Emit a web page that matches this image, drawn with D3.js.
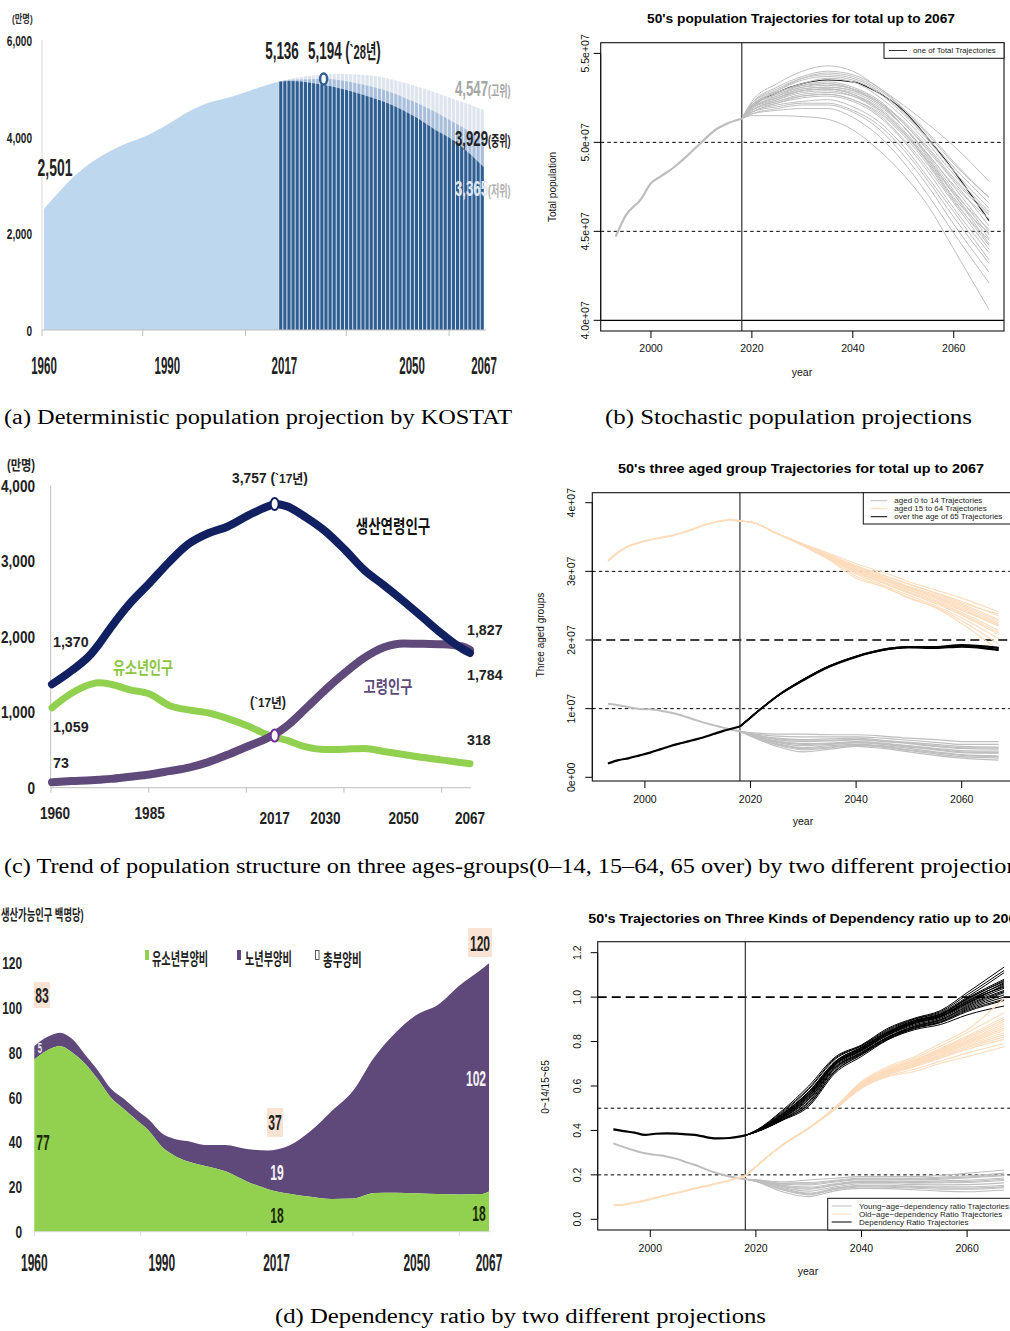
<!DOCTYPE html>
<html><head><meta charset="utf-8">
<script src="https://cdn.jsdelivr.net/npm/d3@7"></script>
<style>body{margin:0;background:#fff} svg{display:block}</style>
</head><body>
<svg id="c" width="1010" height="1331"></svg>
<script>
// ================= DATA =================
// (a) KOSTAT total population (만명)
const aHistYears = [1960,1965,1970,1975,1980,1985,1990,1995,2000,2005,2010,2015,2017];
const aHistPop   = [2501,2980,3370,3650,3860,4020,4250,4510,4700,4810,4950,5090,5136];
const aProjYears = [2017,2020,2025,2028,2030,2035,2040,2045,2050,2055,2060,2065,2067];
const aHigh = [5136,5200,5260,5290,5300,5290,5260,5180,5060,4920,4770,4620,4547];
const aMid  = [5136,5178,5190,5194,5190,5120,5030,4900,4720,4520,4280,4040,3929];
const aLow  = [5136,5150,5110,5070,5040,4930,4800,4640,4420,4150,3900,3530,3365];
const aYTicks = [0,2000,4000,6000];
const aXLabels = [1960,1990,2017,2050,2067];
const aXTicks = [1960,1984.5,2009.5,2034,2059];

// (b) stochastic total population (millions)
const bHistYears = [1993,1995,1998,2000,2002,2005,2007,2010,2013,2015,2018];
const bHist      = [44.7,45.9,46.8,47.7,48.1,48.7,49.2,50.0,50.75,51.05,51.33];
const projYears  = [2018,2020,2025,2030,2035,2040,2045,2050,2055,2060,2067];
const bProj = [
  [51.33,52.3,53.3,54.0,54.3,54.0,53.1,52.1,51.0,49.8,47.8],
  [51.33,52.2,53.0,53.6,53.8,53.6,52.9,51.7,50.2,48.6,46.6],
  [51.33,52.1,52.7,53.2,53.4,53.1,52.4,51.1,49.5,47.8,45.3],
  [51.33,52.1,52.6,53.0,53.1,52.9,52.2,50.9,49.3,47.5,45.0],
  [51.33,51.9,52.4,52.8,52.9,52.6,51.8,50.5,48.9,47.1,44.6],
  [51.33,51.8,52.3,52.6,52.7,52.4,51.6,50.2,48.5,46.6,44.0],
  [51.33,52.0,52.5,52.9,53.0,52.8,52.1,50.9,49.3,47.6,45.7],
  [51.33,51.7,52.1,52.3,52.4,52.0,51.2,49.8,48.0,46.1,43.4],
  [51.33,51.8,52.2,52.5,52.6,52.3,51.5,50.1,48.3,46.3,43.8],
  [51.33,51.6,51.9,52.1,52.1,51.7,50.8,49.3,47.5,45.4,42.7],
  [51.33,51.6,51.8,51.9,51.9,51.4,50.4,48.9,47.0,44.9,42.1],
  [51.33,51.5,51.5,51.45,51.3,50.7,49.6,48.2,46.4,44.0,40.6],
  [51.33,52.2,52.9,53.5,53.7,53.5,52.8,51.6,50.1,48.4,46.3],
  [51.33,51.9,52.5,53.0,53.1,52.9,52.2,50.9,49.2,47.3,44.8],
  [51.33,52.0,52.7,53.1,53.3,53.0,52.3,50.9,49.1,47.1,44.3],
  [51.33,51.8,52.3,52.7,52.8,52.6,51.9,50.6,48.9,46.9,44.9],
  [51.33,52.1,52.8,53.2,53.3,53.0,52.3,51.2,49.7,48.0,46.0],
  [51.33,52.0,52.9,53.6,53.9,53.7,53.0,51.9,50.5,48.9,46.9],
  [51.33,51.9,52.6,53.1,53.2,53.0,52.3,51.1,49.6,47.9,45.9],
  [51.33,52.1,52.8,53.3,53.6,53.4,52.6,51.4,49.9,48.2,46.1],
  [51.33,51.8,52.4,52.9,53.0,52.7,51.9,50.6,48.8,46.8,44.2],
  [51.33,51.7,52.2,52.6,52.7,52.4,51.7,50.4,48.7,46.7,44.5],
  [51.33,51.9,52.5,52.9,53.0,52.7,52.0,50.7,49.0,47.2,45.1],
  [51.33,52.2,53.1,53.7,54.0,53.8,53.1,51.9,50.4,48.8,46.9],
  [51.33,51.7,52.0,52.2,52.2,51.8,51.0,49.6,47.8,45.8,43.2]
];
const bBlack = [51.33,52.0,52.8,53.3,53.5,53.4,52.8,51.8,50.2,48.4,45.6];

// (c) left: KOSTAT three age groups (만명)
const cYears   = [1960,1965,1970,1972,1975,1980,1985,1990,1995,2000,2005,2010,2015,2017,2020,2025,2030,2035,2040,2045,2050,2055,2060,2065,2067];
const cWorking = [1370,1550,1771,1900,2118,2445,2712,2990,3230,3370,3460,3600,3720,3757,3730,3580,3395,3150,2880,2680,2470,2250,2030,1840,1784];
const cYouth   = [1059,1250,1371,1390,1370,1295,1240,1090,1030,990,915,820,705,672,630,540,505,510,520,480,440,400,365,330,318];
const cOld     = [73,88,99,106,117,146,175,219,266,339,437,545,654,707,813,1051,1298,1523,1722,1860,1910,1905,1900,1870,1827];
const cYTicks  = [0,1000,2000,3000,4000];
const cXLabels = [1960,1985,2017,2030,2050,2067];
const cXTicks  = [1960,1985,2010,2035,2060];

// (c) right: stochastic three age groups (millions)
const c2HistYears = [1993,1995,1997,1999,2001,2003,2005,2007,2009,2011,2013,2015,2016,2018];
const c2HistWork  = [31.5,32.8,33.7,34.2,34.6,34.9,35.2,35.6,36.1,36.7,37.1,37.4,37.5,37.3];
const c2HistOld   = [2.0,2.5,2.8,3.2,3.6,4.1,4.6,5.0,5.4,5.8,6.3,6.8,7.0,7.4];
const c2HistYoung = [10.7,10.5,10.2,9.95,9.9,9.7,9.4,9.0,8.5,8.0,7.6,7.2,7.0,6.7];
const c2WorkProj = [
  [37.3,37.2,35.5,34.0,32.6,31.1,29.9,28.5,27.3,26.1,24.1],
  [37.3,37.2,35.5,34.0,32.4,30.8,29.5,28.1,26.9,25.6,23.5],
  [37.3,37.2,35.5,33.9,32.3,30.6,29.2,27.8,26.6,25.2,23.0],
  [37.3,37.2,35.5,33.9,32.2,30.4,29.0,27.6,26.3,24.8,22.5],
  [37.3,37.2,35.5,33.9,32.1,30.2,28.7,27.3,26.0,24.4,22.0],
  [37.3,37.2,35.5,33.8,32.0,30.0,28.5,27.0,25.6,24.0,21.4],
  [37.3,37.2,35.5,33.8,31.9,29.8,28.3,26.8,25.3,23.6,20.8],
  [37.3,37.2,35.5,33.8,31.8,29.6,28.0,26.5,25.0,23.2,20.2],
  [37.3,37.2,35.5,33.7,31.7,29.3,27.8,26.2,24.8,22.8,19.4],
  [37.3,37.2,35.5,33.7,31.6,29.0,27.8,26.1,24.7,22.4,18.5],
  [37.3,37.2,35.5,33.9,32.3,30.7,29.4,28.2,26.8,25.4,23.8],
  [37.3,37.2,35.5,33.8,32.0,30.1,28.8,27.2,25.8,24.3,22.2],
  [37.3,37.2,35.5,33.9,32.2,30.5,29.1,27.7,26.4,25.0,22.8],
  [37.3,37.2,35.5,33.8,31.9,29.9,28.4,26.9,25.5,23.8,21.1],
  [37.3,37.2,35.5,33.9,32.1,30.3,28.9,27.5,26.2,24.6,22.3]
];
const c2OldProj = [
  [7.4,8.7,11.8,14.2,16.2,17.6,18.6,19.0,19.0,19.2,18.8],
  [7.4,8.7,11.8,14.2,16.2,17.6,18.5,18.9,18.9,19.1,18.6],
  [7.4,8.7,11.8,14.1,16.1,17.5,18.5,18.9,18.8,19.0,18.5],
  [7.4,8.7,11.8,14.2,16.2,17.6,18.6,19.0,19.0,19.3,18.9]
];
const c2YoungProj = [
  [6.7,6.5,6.3,6.3,6.2,6.2,6.0,5.7,5.5,5.2,5.2],
  [6.7,6.4,6.0,5.9,5.9,5.9,5.7,5.4,5.1,4.8,4.8],
  [6.7,6.3,5.7,5.5,5.6,5.7,5.4,5.1,4.8,4.5,4.4],
  [6.7,6.3,5.5,5.2,5.3,5.5,5.2,4.9,4.5,4.2,4.1],
  [6.7,6.2,5.3,4.9,5.0,5.2,5.0,4.6,4.2,3.9,3.8],
  [6.7,6.2,5.1,4.6,4.8,5.0,4.8,4.4,4.0,3.6,3.5],
  [6.7,6.1,4.9,4.3,4.6,4.8,4.6,4.2,3.7,3.3,3.1],
  [6.7,6.1,4.7,4.0,4.3,4.6,4.4,3.9,3.4,3.0,2.8],
  [6.7,6.0,4.5,3.7,4.1,4.5,4.2,3.7,3.2,2.8,2.5],
  [6.7,6.3,5.6,5.4,5.4,5.5,5.3,5.0,4.6,4.3,4.3],
  [6.7,6.2,5.2,4.8,4.9,5.1,4.9,4.5,4.1,3.7,3.6],
  [6.7,6.1,4.8,4.2,4.4,4.7,4.5,4.0,3.6,3.2,3.0]
];

// (d) left: KOSTAT dependency ratios (per 100 working-age)
const dYears = [1960,1963,1966,1969,1972,1975,1978,1981,1984,1987,1990,1993,1996,2000,2005,2010,2015,2017,2020,2025,2030,2035,2040,2045,2050,2055,2060,2065,2067];
const dYouthDep = [77,81,83,80,75,68,60,55,50,45,38,34,31.5,29.5,27,22.5,19,18,17,15.6,14.6,14.8,17.3,17.4,17.2,16.8,16.6,16.8,18];
const dTotalDep = [83,87,89,86,79,72,64,59.5,54.5,50,44,41.5,40.5,38.8,38.8,37,36.3,36.7,38.5,45,54,63,78,89,97,101.5,110,117,120];
const dYTicks = [0,20,40,60,80,100,120];
const dXLabels = [1960,1990,2017,2050,2067];
const dXTicks = [1960,1985,2010,2035,2060];

// (d) right: stochastic dependency ratios
const d2HistYears = [1993,1995,1997,1999,2001,2003,2005,2007,2009,2011,2013,2015,2018];
const d2HistTotal = [0.405,0.397,0.39,0.38,0.385,0.387,0.386,0.382,0.378,0.368,0.364,0.366,0.378];
const d2HistYoung = [0.342,0.325,0.31,0.297,0.29,0.283,0.272,0.255,0.24,0.22,0.205,0.193,0.18];
const d2HistOld   = [0.064,0.066,0.075,0.085,0.097,0.108,0.118,0.13,0.142,0.152,0.163,0.175,0.195];
const d2TotalProj = [
  [0.378,0.40,0.49,0.60,0.73,0.785,0.86,0.905,0.94,1.02,1.135],
  [0.378,0.398,0.48,0.585,0.72,0.78,0.85,0.90,0.93,1.00,1.11],
  [0.378,0.397,0.475,0.575,0.71,0.775,0.845,0.895,0.925,0.99,1.075],
  [0.378,0.396,0.47,0.565,0.705,0.77,0.84,0.89,0.92,0.985,1.06],
  [0.378,0.396,0.465,0.56,0.70,0.765,0.835,0.885,0.915,0.975,1.05],
  [0.378,0.395,0.46,0.55,0.695,0.76,0.83,0.88,0.91,0.97,1.04],
  [0.378,0.395,0.458,0.545,0.69,0.757,0.828,0.875,0.905,0.965,1.03],
  [0.378,0.394,0.455,0.54,0.685,0.752,0.822,0.87,0.90,0.955,1.02],
  [0.378,0.394,0.452,0.53,0.68,0.748,0.818,0.865,0.895,0.95,1.01],
  [0.378,0.393,0.45,0.525,0.675,0.745,0.815,0.862,0.89,0.945,1.00],
  [0.378,0.393,0.448,0.515,0.665,0.74,0.81,0.858,0.885,0.935,0.985],
  [0.378,0.392,0.445,0.508,0.658,0.733,0.808,0.853,0.877,0.92,0.96],
  [0.378,0.397,0.472,0.57,0.708,0.772,0.842,0.892,0.922,0.995,1.08],
  [0.378,0.395,0.462,0.552,0.698,0.762,0.832,0.882,0.912,0.98,1.045],
  [0.378,0.399,0.485,0.59,0.725,0.782,0.855,0.902,0.935,1.01,1.12],
  [0.378,0.396,0.468,0.562,0.703,0.768,0.838,0.888,0.918,0.98,1.065],
  [0.378,0.394,0.456,0.538,0.683,0.75,0.82,0.868,0.898,0.96,1.025],
  [0.378,0.393,0.447,0.518,0.668,0.742,0.812,0.86,0.888,0.94,0.99],
  [0.378,0.395,0.463,0.556,0.697,0.763,0.834,0.884,0.913,0.972,1.055],
  [0.378,0.397,0.474,0.572,0.709,0.774,0.844,0.894,0.924,0.992,1.07]
];
const d2OldProj = [
  [0.195,0.237,0.334,0.41,0.505,0.62,0.687,0.732,0.792,0.853,0.995],
  [0.195,0.237,0.334,0.41,0.503,0.615,0.68,0.725,0.78,0.84,0.93],
  [0.195,0.237,0.334,0.41,0.502,0.612,0.675,0.718,0.77,0.825,0.91],
  [0.195,0.237,0.334,0.41,0.501,0.608,0.67,0.712,0.762,0.812,0.89],
  [0.195,0.237,0.334,0.41,0.50,0.605,0.665,0.706,0.754,0.80,0.87],
  [0.195,0.237,0.334,0.41,0.499,0.602,0.66,0.70,0.745,0.79,0.85],
  [0.195,0.237,0.334,0.41,0.498,0.598,0.655,0.694,0.735,0.778,0.83],
  [0.195,0.237,0.334,0.41,0.497,0.595,0.65,0.686,0.725,0.765,0.81],
  [0.195,0.237,0.334,0.41,0.496,0.592,0.645,0.675,0.712,0.748,0.79],
  [0.195,0.237,0.334,0.41,0.495,0.59,0.642,0.665,0.702,0.732,0.777],
  [0.195,0.237,0.334,0.41,0.50,0.606,0.668,0.71,0.758,0.805,0.88],
  [0.195,0.237,0.334,0.41,0.498,0.60,0.658,0.697,0.74,0.785,0.84],
  [0.195,0.237,0.334,0.41,0.501,0.61,0.672,0.715,0.765,0.818,0.90],
  [0.195,0.237,0.334,0.41,0.499,0.603,0.662,0.703,0.75,0.795,0.86],
  [0.195,0.237,0.334,0.41,0.497,0.596,0.652,0.69,0.73,0.772,0.82]
];
const d2YoungProj = [
  [0.18,0.178,0.169,0.177,0.185,0.192,0.192,0.192,0.198,0.207,0.222],
  [0.18,0.177,0.163,0.165,0.176,0.185,0.185,0.184,0.19,0.196,0.208],
  [0.18,0.176,0.158,0.155,0.168,0.178,0.178,0.177,0.181,0.186,0.196],
  [0.18,0.175,0.153,0.145,0.16,0.172,0.172,0.17,0.173,0.176,0.186],
  [0.18,0.174,0.148,0.136,0.153,0.166,0.166,0.163,0.164,0.166,0.175],
  [0.18,0.173,0.143,0.127,0.146,0.16,0.16,0.156,0.155,0.156,0.164],
  [0.18,0.172,0.138,0.118,0.14,0.153,0.153,0.148,0.146,0.146,0.153],
  [0.18,0.171,0.132,0.11,0.134,0.146,0.145,0.14,0.136,0.135,0.142],
  [0.18,0.17,0.124,0.102,0.128,0.139,0.138,0.133,0.127,0.124,0.132],
  [0.18,0.176,0.16,0.16,0.172,0.182,0.182,0.18,0.185,0.19,0.20],
  [0.18,0.174,0.15,0.14,0.156,0.169,0.169,0.166,0.168,0.17,0.18],
  [0.18,0.172,0.135,0.114,0.137,0.15,0.149,0.144,0.141,0.14,0.147]
];
const rXTicks = [2000,2020,2040,2060];

// ================= DRAWING =================
const NARROW = "'Liberation Sans Narrow','Liberation Sans','Noto Sans CJK KR',sans-serif";
const SANS = "'Liberation Sans',Arial,'Noto Sans CJK KR',sans-serif";
const SERIF = "'Liberation Serif','DejaVu Serif',serif";
const svg = d3.select('#c');
const defs = svg.append('defs');

function T(x, y, str, o = {}) {
  const t = svg.append('text')
    .attr('transform', `translate(${x},${y})` + (o.rot ? ` rotate(${o.rot})` : '') + (o.sx ? ` scale(${o.sx},1)` : ''))
    .attr('text-anchor', o.anchor || 'start')
    .attr('font-family', o.font || SANS)
    .attr('font-size', o.size || 10)
    .attr('font-weight', o.weight || 'normal')
    .attr('fill', o.fill || '#000');
  if (o.parts) {
    o.parts.forEach(p => t.append('tspan').attr('font-size', p.size || o.size).attr('fill', p.fill || o.fill || '#000').text(p.t));
  } else t.text(str);
  if (o.len) t.attr('textLength', o.len).attr('lengthAdjust', 'spacingAndGlyphs');
  return t;
}
const pts = (ys, vs) => ys.map((yr, i) => [yr, vs[i]]);
const fmtC = d3.format(',');

// ---------- (a) ----------
{
  const x = d3.scaleLinear().domain([1960, 2067]).range([44, 484]);
  const y = d3.scaleLinear().domain([0, 6000]).range([330, 40]);
  const g = svg.append('g');
  const area = d3.area().x(d => x(d[0])).y0(y(0)).y1(d => y(d[1])).curve(d3.curveMonotoneX);
  g.append('path').attr('d', area(pts(aHistYears, aHistPop))).attr('fill', '#bdd7ee');
  g.append('path').attr('d', area(pts(aProjYears, aHigh))).attr('fill', '#dfe5ef');
  g.append('path').attr('d', area(pts(aProjYears, aMid))).attr('fill', '#a9bedb');
  g.append('path').attr('d', area(pts(aProjYears, aLow))).attr('fill', '#2f5e92');
  g.selectAll('.sep').data(d3.range(2017, 2068)).join('line')
    .attr('x1', d => x(d) + 0.3).attr('x2', d => x(d) + 0.3)
    .attr('y1', y(0)).attr('y2', y(5600))
    .attr('stroke', '#fff').attr('stroke-width', 1).attr('stroke-opacity', 0.85);
  g.append('line').attr('x1', 42).attr('x2', 42).attr('y1', y(6000)).attr('y2', y(0)).attr('stroke', '#d9d9d9');
  g.append('line').attr('x1', 42).attr('x2', 486).attr('y1', y(0)).attr('y2', y(0)).attr('stroke', '#bfbfbf');
  aXTicks.forEach(t => g.append('line').attr('x1', x(t) - 2).attr('x2', x(t) - 2).attr('y1', y(0)).attr('y2', y(0) + 6).attr('stroke', '#bfbfbf'));
  aYTicks.forEach(v => T(32, y(v) + 6, fmtC(v), {font: NARROW, size: 14, sx: 0.72, anchor: 'end', weight: 'bold', fill: '#222'}));
  T(12, 23, '(만명)', {font: NARROW, size: 11, sx: 0.75, fill: '#333', weight: 'bold'});
  aXLabels.forEach(v => T(x(v) + (v === 2017 ? 6 : v === 2050 ? -2 : 0), 374, String(v), {font: NARROW, size: 23, sx: 0.5, anchor: 'middle', weight: 'bold', fill: '#222'}));
  T(55, 176, '2,501', {font: NARROW, size: 24, sx: 0.58, anchor: 'middle', weight: 'bold', fill: '#222'});
  T(282, 59, '5,136', {font: NARROW, size: 24, sx: 0.56, anchor: 'middle', weight: 'bold', fill: '#222'});
  T(308, 59, null, {font: NARROW, size: 24, sx: 0.56, weight: 'bold', fill: '#222', parts: [{t: '5,194 ('}, {t: '`28년', size: 20}, {t: ')'}]});
  T(455, 96, null, {font: NARROW, size: 22, sx: 0.6, weight: 'bold', fill: '#a6a6a6', parts: [{t: '4,547'}, {t: '(고위)', size: 15}]});
  T(455, 146, null, {font: NARROW, size: 22, sx: 0.6, weight: 'bold', fill: '#222', parts: [{t: '3,929'}, {t: '(중위)', size: 15}]});
  T(455, 196, null, {font: NARROW, size: 22, sx: 0.6, weight: 'bold', fill: '#e3e9f1', parts: [{t: '3,365'}, {t: '(저위)', size: 15, fill: '#b0b0b0'}]});
  g.append('ellipse').attr('cx', x(2028)).attr('cy', y(5194)).attr('rx', 3.5).attr('ry', 5.5)
    .attr('fill', '#fff').attr('stroke', '#2f5e92').attr('stroke-width', 2.5);
}

// ---------- (c) left ----------
{
  const x = d3.scaleLinear().domain([1960, 2067]).range([52, 470]);
  const y = d3.scaleLinear().domain([0, 4000]).range([787.7, 485.7]);
  const g = svg.append('g');
  g.append('line').attr('x1', 50.7).attr('x2', 50.7).attr('y1', y(4000)).attr('y2', y(0)).attr('stroke', '#bfbfbf');
  g.append('line').attr('x1', 50.7).attr('x2', 471).attr('y1', y(0)).attr('y2', y(0)).attr('stroke', '#bfbfbf');
  cXTicks.forEach(t => g.append('line').attr('x1', x(t) - 1).attr('x2', x(t) - 1).attr('y1', y(0)).attr('y2', y(0) + 5).attr('stroke', '#bfbfbf'));
  cYTicks.forEach(v => T(35, y(v) + 6, fmtC(v), {font: NARROW, size: 16, sx: 0.85, anchor: 'end', weight: 'bold', fill: '#222'}));
  T(7, 470, '(만명)', {font: NARROW, size: 14, sx: 0.8, weight: 'bold', fill: '#222'});
  cXLabels.forEach(v => {
    const yy = (v === 1960 || v === 1985) ? 819 : 824;
    T(x(v) + (v === 1960 ? 3 : 0), yy, String(v), {font: NARROW, size: 16, sx: 0.85, anchor: 'middle', weight: 'bold', fill: '#222'});
  });
  const line = d3.line().x(d => x(d[0])).y(d => y(d[1])).curve(d3.curveMonotoneX);
  g.append('path').attr('d', line(pts(cYears, cYouth))).attr('fill', 'none').attr('stroke', '#92d050').attr('stroke-width', 7).attr('stroke-linecap', 'round');
  g.append('path').attr('d', line(pts(cYears, cOld))).attr('fill', 'none').attr('stroke', '#604a7b').attr('stroke-width', 8).attr('stroke-linecap', 'round');
  g.append('path').attr('d', line(pts(cYears, cWorking))).attr('fill', 'none').attr('stroke', '#102060').attr('stroke-width', 8).attr('stroke-linecap', 'round');
  g.append('ellipse').attr('cx', x(2017)).attr('cy', y(3757)).attr('rx', 4).attr('ry', 6).attr('fill', '#fff').attr('stroke', '#102060').attr('stroke-width', 2);
  g.append('ellipse').attr('cx', x(2017)).attr('cy', y(690)).attr('rx', 4).attr('ry', 6).attr('fill', '#fff').attr('stroke', '#7030a0').attr('stroke-width', 2);
  const lab = {font: NARROW, size: 15, weight: 'bold', fill: '#222'};
  T(270, 483, null, Object.assign({}, lab, {anchor: 'middle', sx: 0.92, parts: [{t: '3,757 ('}, {t: '`17년', size: 13}, {t: ')'}]}));
  T(393, 533, '생산연령인구', {font: NARROW, size: 18, sx: 0.75, weight: 'bold', fill: '#111', anchor: 'middle'});
  T(143, 674, '유소년인구', {font: NARROW, size: 17, sx: 0.77, weight: 'bold', fill: '#8cc63f', anchor: 'middle'});
  T(388, 693, '고령인구', {font: NARROW, size: 17, sx: 0.78, weight: 'bold', fill: '#604a7b', anchor: 'middle'});
  T(53, 647, '1,370', Object.assign({}, lab, {sx: 0.95}));
  T(53, 732, '1,059', Object.assign({}, lab, {sx: 0.95}));
  T(53, 768, '73', Object.assign({}, lab, {sx: 0.95}));
  T(268, 707, null, Object.assign({}, lab, {anchor: 'middle', size: 14, sx: 0.9, parts: [{t: '('}, {t: '`17년', size: 13}, {t: ')'}]}));
  T(467, 635, '1,827', Object.assign({}, lab, {sx: 0.95}));
  T(467, 680, '1,784', Object.assign({}, lab, {sx: 0.95}));
  T(467, 745, '318', Object.assign({}, lab, {sx: 0.95}));
}

// ---------- (d) left ----------
{
  const x = d3.scaleLinear().domain([1960, 2067]).range([34.3, 489]);
  const y = d3.scaleLinear().domain([0, 120]).range([1231.7, 963.3]);
  const g = svg.append('g');
  const area = d3.area().x(d => x(d[0])).curve(d3.curveMonotoneX);
  g.append('path').attr('d', area.y0(d => y(d[2])).y1(d => y(d[1]))(dYears.map((yr, i) => [yr, dTotalDep[i], dYouthDep[i]]))).attr('fill', '#5f497a');
  g.append('path').attr('d', area.y0(y(0)).y1(d => y(d[1]))(pts(dYears, dYouthDep))).attr('fill', '#92d050');
  g.append('line').attr('x1', 34).attr('x2', 490).attr('y1', y(0)).attr('y2', y(0)).attr('stroke', '#d9d9d9');
  dXTicks.forEach(t => g.append('line').attr('x1', x(t)).attr('x2', x(t)).attr('y1', y(0)).attr('y2', y(0) + 4).attr('stroke', '#d9d9d9'));
  dYTicks.forEach(v => T(22, y(v) + 6, String(v), {font: NARROW, size: 17, sx: 0.7, anchor: 'end', weight: 'bold', fill: '#222'}));
  T(1, 920, '생산가능인구 백명당)', {font: NARROW, size: 15, sx: 0.62, weight: 'bold', fill: '#222'});
  dXLabels.forEach(v => T(x(v), 1271, String(v), {font: NARROW, size: 23, sx: 0.52, anchor: 'middle', weight: 'bold', fill: '#222'}));
  g.append('rect').attr('x', 145).attr('y', 950).attr('width', 4).attr('height', 10).attr('fill', '#92d050');
  T(152, 965, '유소년부양비', {font: NARROW, size: 17, sx: 0.6, weight: 'bold', fill: '#222'});
  g.append('rect').attr('x', 237).attr('y', 950).attr('width', 4).attr('height', 10).attr('fill', '#5f497a');
  T(245, 965, '노년부양비', {font: NARROW, size: 17, sx: 0.6, weight: 'bold', fill: '#222'});
  g.append('rect').attr('x', 315.5).attr('y', 950.5).attr('width', 3.5).attr('height', 9).attr('fill', '#fff').attr('stroke', '#333').attr('stroke-width', 0.8);
  T(323, 966, '총부양비', {font: NARROW, size: 17, sx: 0.62, weight: 'bold', fill: '#222'});
  const peach = '#fbe3d3';
  g.append('rect').attr('x', 34).attr('y', 982).attr('width', 16).attr('height', 26).attr('fill', peach);
  g.append('rect').attr('x', 468).attr('y', 928).attr('width', 24).attr('height', 29).attr('fill', peach);
  g.append('rect').attr('x', 267).attr('y', 1108).attr('width', 16).attr('height', 29).attr('fill', peach);
  const vl = {font: NARROW, size: 22, sx: 0.55, anchor: 'middle', weight: 'bold', fill: '#222'};
  T(42, 1003, '83', vl);
  T(480, 951, '120', vl);
  T(275, 1130, '37', vl);
  T(43, 1150, '77', Object.assign({}, vl, {fill: '#1b2a0a'}));
  T(40, 1053, '5', Object.assign({}, vl, {size: 14, fill: '#eeeeee'}));
  T(277, 1180, '19', Object.assign({}, vl, {fill: '#f2f2f2'}));
  T(277, 1223, '18', Object.assign({}, vl, {fill: '#1b2a0a'}));
  T(476, 1086, '102', Object.assign({}, vl, {fill: '#f2f2f2'}));
  T(479, 1221, '18', Object.assign({}, vl, {fill: '#1b2a0a'}));
}

// ---------- R-style panels ----------
function rFrame(o) {
  const g = svg.append('g');
  const id = 'clip' + Math.round(o.box.t);
  defs.append('clipPath').attr('id', id).append('rect')
    .attr('x', o.box.l).attr('y', o.box.t).attr('width', o.box.r - o.box.l).attr('height', o.box.b - o.box.t);
  const plot = g.append('g').attr('clip-path', `url(#${id})`);
  o.yTicks.forEach(v => {
    g.append('line').attr('x1', o.box.l - 7).attr('x2', o.box.l).attr('y1', o.y(v)).attr('y2', o.y(v)).attr('stroke', '#000');
    T(o.yTickBase, o.y(v), o.yFmt(v), {rot: -90, anchor: 'middle', size: 10.5, fill: '#111'});
  });
  g.append('line').attr('x1', o.box.l).attr('x2', o.box.l).attr('y1', o.y(o.yTicks[0])).attr('y2', o.y(o.yTicks[o.yTicks.length - 1])).attr('stroke', '#000');
  rXTicks.forEach(v => {
    g.append('line').attr('x1', o.x(v)).attr('x2', o.x(v)).attr('y1', o.box.b).attr('y2', o.box.b + 7).attr('stroke', '#000');
    T(o.x(v), o.xLabY, String(v), {anchor: 'middle', size: 10.5, fill: '#111'});
  });
  T(o.yearX, o.yearY, 'year', {anchor: 'middle', size: 10.5, fill: '#111'});
  T(o.yLabX, o.yLabY, o.yLab, {rot: -90, anchor: 'middle', size: 10, fill: '#111'});
  return {g, plot};
}
function rBox(g, box) {
  g.append('rect').attr('x', box.l).attr('y', box.t).attr('width', box.r - box.l).attr('height', box.b - box.t)
    .attr('fill', 'none').attr('stroke', '#111').attr('stroke-width', 1.1);
}
function hline(plot, box, yv, kind) {
  const l = plot.append('line').attr('x1', box.l).attr('x2', box.r).attr('y1', yv).attr('y2', yv).attr('stroke', '#000');
  if (kind === 'short') l.attr('stroke-dasharray', '3.5,3').attr('stroke-width', 1);
  else if (kind === 'long') l.attr('stroke-dasharray', '9,5').attr('stroke-width', 1.6);
  else l.attr('stroke-width', 1.2);
}
function drawLines(plot, x, y, years, arrs, color, w) {
  const line = d3.line().x(d => x(d[0])).y(d => y(d[1])).curve(d3.curveMonotoneX);
  plot.append('g').selectAll('path').data(arrs).join('path')
    .attr('d', a => line(pts(years, a))).attr('fill', 'none').attr('stroke', color).attr('stroke-width', w);
}
const GRAY = '#bebebe', BEIGE = '#fddcbc';

// ---------- (b) ----------
{
  const box = {l: 600.7, t: 42.7, r: 1004, b: 331};
  const x = d3.scaleLinear().domain([1990.04, 2069.96]).range([box.l, box.r]);
  const y = d3.scaleLinear().domain([39.4, 55.6]).range([box.b, box.t]);
  const {g, plot} = rFrame({x, y, box, yTicks: [40, 45, 50, 55], yFmt: v => (v / 10).toFixed(1) + 'e+07',
    yTickBase: 589, yLab: 'Total population', yLabX: 556, yLabY: 187, xLabY: 352, yearX: 802, yearY: 376});
  T(801, 23, "50's population Trajectories for total up to 2067", {anchor: 'middle', size: 12, weight: 'bold', len: 308});
  hline(plot, box, y(50), 'short'); hline(plot, box, y(45), 'short'); hline(plot, box, y(40), 'solid');
  plot.append('line').attr('x1', x(2018)).attr('x2', x(2018)).attr('y1', box.t).attr('y2', box.b).attr('stroke', '#333').attr('stroke-width', 1.2);
  drawLines(plot, x, y, projYears, [bBlack], '#222', 1.1);
  drawLines(plot, x, y, projYears, bProj, GRAY, 1);
  drawLines(plot, x, y, bHistYears, [bHist], GRAY, 2.2);
  rBox(g, box);
  g.append('rect').attr('x', 884).attr('y', box.t).attr('width', 1004 - 884).attr('height', 15.6).attr('fill', '#fff').attr('stroke', '#111');
  g.append('line').attr('x1', 889).attr('x2', 907).attr('y1', 50.5).attr('y2', 50.5).attr('stroke', '#333');
  T(913, 53.2, 'one of Total Trajectories', {size: 7.8, fill: '#222'});
}

// ---------- (c) right ----------
{
  const box = {l: 592.3, t: 492.7, r: 1014.3, b: 781};
  const x = d3.scaleLinear().domain([1990.04, 2069.96]).range([box.l, box.r]);
  const y = d3.scaleLinear().domain([0, 40]).range([777.3, 502.7]);
  const {g, plot} = rFrame({x, y, box, yTicks: [0, 10, 20, 30, 40], yFmt: v => v === 0 ? '0e+00' : (v / 10) + 'e+07',
    yTickBase: 574.5, yLab: 'Three aged groups', yLabX: 544, yLabY: 635, xLabY: 803, yearX: 803, yearY: 824.5});
  T(801, 473, "50's three aged group Trajectories for total up to 2067", {anchor: 'middle', size: 12, weight: 'bold', len: 366});
  hline(plot, box, y(30), 'short'); hline(plot, box, y(20), 'long'); hline(plot, box, y(10), 'short');
  plot.append('line').attr('x1', x(2018)).attr('x2', x(2018)).attr('y1', box.t).attr('y2', box.b).attr('stroke', '#333').attr('stroke-width', 1.2);
  drawLines(plot, x, y, projYears, c2YoungProj, GRAY, 1.2);
  drawLines(plot, x, y, projYears, c2WorkProj, BEIGE, 1.1);
  drawLines(plot, x, y, projYears, c2OldProj, '#000', 1.6);
  drawLines(plot, x, y, c2HistYears, [c2HistYoung], GRAY, 2);
  drawLines(plot, x, y, c2HistYears, [c2HistWork], BEIGE, 2);
  drawLines(plot, x, y, c2HistYears, [c2HistOld], '#000', 2.2);
  rBox(g, box);
  g.append('rect').attr('x', 863.3).attr('y', box.t).attr('width', 160).attr('height', 31.3).attr('fill', '#fff').attr('stroke', '#111');
  [[GRAY, 'aged 0 to 14 Trajectories'], [BEIGE, 'aged 15 to 64 Trajectories'], ['#000', 'over the age of 65 Trajectories']].forEach((d, i) => {
    const yy = 500.7 + i * 8;
    g.append('line').attr('x1', 870.7).attr('x2', 887.3).attr('y1', yy).attr('y2', yy).attr('stroke', d[0]);
    T(894.3, yy + 2.7, d[1], {size: 8, fill: '#222'});
  });
}

// ---------- (d) right ----------
{
  const box = {l: 597.7, t: 941.7, r: 1019.7, b: 1230};
  const x = d3.scaleLinear().domain([1990.04, 2069.96]).range([box.l, box.r]);
  const y = d3.scaleLinear().domain([0, 1.2]).range([1219.3, 952.7]);
  const {g, plot} = rFrame({x, y, box, yTicks: [0, 0.2, 0.4, 0.6, 0.8, 1.0, 1.2], yFmt: v => v.toFixed(1),
    yTickBase: 580.5, yLab: '0~14/15~65', yLabX: 549, yLabY: 1087, xLabY: 1251.5, yearX: 808, yearY: 1274.5});
  T(588.3, 923, "50's Trajectories on Three Kinds of Dependency ratio up to 2067", {size: 12, weight: 'bold', len: 436});
  hline(plot, box, y(1.0), 'long'); hline(plot, box, y(0.5), 'short'); hline(plot, box, y(0.2), 'short');
  plot.append('line').attr('x1', x(2018)).attr('x2', x(2018)).attr('y1', box.t).attr('y2', box.b).attr('stroke', '#333').attr('stroke-width', 1.2);
  drawLines(plot, x, y, projYears, d2YoungProj, GRAY, 1.1);
  drawLines(plot, x, y, projYears, d2TotalProj, '#000', 1);
  drawLines(plot, x, y, projYears, d2OldProj, BEIGE, 1.1);
  drawLines(plot, x, y, d2HistYears, [d2HistYoung], GRAY, 2);
  drawLines(plot, x, y, d2HistYears, [d2HistOld], BEIGE, 2);
  drawLines(plot, x, y, d2HistYears, [d2HistTotal], '#000', 2.2);
  rBox(g, box);
  g.append('rect').attr('x', 827.7).attr('y', 1198.3).attr('width', 200).attr('height', 31.7).attr('fill', '#fff').attr('stroke', '#111');
  [[GRAY, 'Young\u2212age\u2212dependency ratio Trajectories'], [BEIGE, 'Old\u2212age\u2212dependency Ratio Trajectories'], ['#000', 'Dependency Ratio Trajectories']].forEach((d, i) => {
    const yy = 1206 + i * 8;
    g.append('line').attr('x1', 831.7).attr('x2', 851.7).attr('y1', yy).attr('y2', yy).attr('stroke', d[0]);
    T(859, yy + 2.7, d[1], {size: 8, fill: '#222'});
  });
}

// ---------- captions ----------
T(4, 424, '(a) Deterministic population projection by KOSTAT', {font: SERIF, size: 20, len: 508});
T(605, 424, '(b) Stochastic population projections', {font: SERIF, size: 20, len: 367});
T(4, 873, '(c) Trend of population structure on three ages-groups(0\u201314, 15\u201364, 65 over) by two different projections', {font: SERIF, size: 20, len: 1024});
T(275, 1323, '(d) Dependency ratio by two different projections', {font: SERIF, size: 20, len: 491});
</script>
</body></html>
